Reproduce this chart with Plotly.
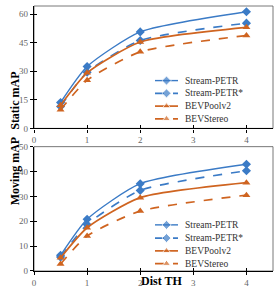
import plotly.graph_objects as go

dist = [0.5, 1, 2, 4]
series_names = ["Stream-PETR", "Stream-PETR*", "BEVPoolv2", "BEVStereo"]
static_stream = [13.6, 32.5, 50.7, 61.3]
static_stream_star = [11.5, 29.5, 46.2, 55.3]
static_bevpool = [12.2, 29.2, 45.4, 53.1]
static_bevstereo = [9.8, 25.3, 40.2, 48.8]
moving_stream = [6.3, 20.8, 35.1, 42.9]
moving_stream_star = [5.6, 18.7, 32.4, 40.3]
moving_bevpool = [5.3, 17.4, 29.5, 35.5]
moving_bevstereo = [2.8, 14.1, 24.1, 30.5]
x_ticks = [0, 1, 2, 3, 4]
static_ticks = [0, 15, 30, 45, 60]
moving_ticks = [0, 10, 20, 30, 40, 50]

BLUE = "#3B7BC6"
ORANGE = "#CF6420"
FONT = "Liberation Serif, Times New Roman, serif"
styles = [
    dict(color=BLUE, dash="solid", symbol="diamond", size=7, width=1.4),
    dict(color=BLUE, dash="dash", symbol="diamond", size=7, width=1.6),
    dict(color=ORANGE, dash="solid", symbol="triangle-up", size=7, width=1.7),
    dict(color=ORANGE, dash="dash", symbol="triangle-up", size=7, width=1.7),
]
static_vals = [static_stream, static_stream_star, static_bevpool, static_bevstereo]
moving_vals = [moving_stream, moving_stream_star, moving_bevpool, moving_bevstereo]

# pixel geometry
W, HT = 275, 293
L, R, T, B = 34, 2, 1, 22
PW, PH = W - L - R, HT - T - B


def px_x(px):
    return (px - L) / PW


def px_y(py):
    return (HT - B - py) / PH


top_dom = [px_y(125.7), 1.0]
bot_dom = [0.0, px_y(144.3)]
X_RANGE = [0, 4.5]
Y1_RANGE = [0, 64.3]
Y2_RANGE = [0, 50]

fig = go.Figure()
for name, vals, st in zip(series_names, static_vals, styles):
    fig.add_trace(go.Scatter(
        x=dist, y=vals, name=name, mode="lines+markers", xaxis="x", yaxis="y",
        line=dict(color=st["color"], dash=st["dash"], width=st["width"], shape="spline", smoothing=0.6),
        marker=dict(symbol=st["symbol"], size=st["size"], color=st["color"]),
        showlegend=False))
for name, vals, st in zip(series_names, moving_vals, styles):
    fig.add_trace(go.Scatter(
        x=dist, y=vals, name=name, mode="lines+markers", xaxis="x2", yaxis="y2",
        line=dict(color=st["color"], dash=st["dash"], width=st["width"], shape="spline", smoothing=0.6),
        marker=dict(symbol=st["symbol"], size=st["size"], color=st["color"]),
        showlegend=False))

# dummy traces so the inside-tick overlay axes get drawn
fig.add_trace(go.Scatter(x=[None], y=[None], xaxis="x4", yaxis="y4", showlegend=False, hoverinfo="skip"))
fig.add_trace(go.Scatter(x=[None], y=[None], xaxis="x5", yaxis="y5", showlegend=False, hoverinfo="skip"))

# manual legends (compact rows like the reference)
legend_rows = {"top": [77, 90, 103, 116], "bot": [224, 237.5, 250.5, 263.5]}
gx0, gxc, gx1, tx = 155, 166.5, 178, 183
annotations = []
for key, rows in legend_rows.items():
    for name, st, py in zip(series_names, styles, rows):
        fig.add_trace(go.Scatter(
            x=[px_x(gx0), px_x(gxc), px_x(gx1)], y=[px_y(py)] * 3,
            mode="lines+markers", xaxis="x3", yaxis="y3", showlegend=False, hoverinfo="skip",
            line=dict(color=st["color"], dash=st["dash"], width=st["width"]),
            marker=dict(symbol=st["symbol"], size=[0, st["size"], 0], color=st["color"])))
        annotations.append(dict(x=px_x(tx), y=px_y(py), xref="paper", yref="paper",
                                text=name, showarrow=False, xanchor="left", yanchor="middle",
                                font=dict(family=FONT, size=9.5, color="#333333")))

title_font = dict(family=FONT, size=12, color="black")
annotations += [
    dict(x=px_x(6), y=px_y(66), xref="paper", yref="paper",
         text="<b>Static mAP</b>", textangle=-90, showarrow=False, font=title_font),
    dict(x=px_x(6), y=px_y(206), xref="paper", yref="paper",
         text="<b>Moving mAP</b>", textangle=-90, showarrow=False, font=title_font),
    dict(x=px_x(161), y=px_y(290), xref="paper", yref="paper",
         text="<b>Dist TH</b>", showarrow=False, font=title_font),
]

axis_common = dict(showline=True, linecolor="black", linewidth=1.3, ticks="outside",
                   ticklen=3, tickcolor="black", tickwidth=1, showgrid=False, zeroline=False,
                   tickfont=dict(family=FONT, size=9, color="#666666"))
inside_common = dict(ticks="inside", ticklen=3, tickcolor="black", tickwidth=1,
                     showticklabels=False, showline=False, showgrid=False, zeroline=False)
fig.update_layout(
    xaxis=dict(range=X_RANGE, tickvals=x_ticks, domain=[0, 1], anchor="y", **axis_common),
    xaxis2=dict(range=X_RANGE, tickvals=x_ticks, domain=[0, 1], anchor="y2", **axis_common),
    yaxis=dict(range=Y1_RANGE, tickvals=static_ticks, domain=top_dom, anchor="x", **axis_common),
    yaxis2=dict(range=Y2_RANGE, tickvals=moving_ticks, domain=bot_dom, anchor="x2", **axis_common),
    xaxis3=dict(range=[0, 1], domain=[0, 1], anchor="y3", visible=False, fixedrange=True),
    yaxis3=dict(range=[0, 1], domain=[0, 1], anchor="x3", visible=False, fixedrange=True),
    xaxis4=dict(range=X_RANGE, tickvals=x_ticks, overlaying="x", anchor="y", **inside_common),
    yaxis4=dict(range=Y1_RANGE, tickvals=static_ticks, overlaying="y", anchor="x", **inside_common),
    xaxis5=dict(range=X_RANGE, tickvals=x_ticks, overlaying="x2", anchor="y2", **inside_common),
    yaxis5=dict(range=Y2_RANGE, tickvals=moving_ticks, overlaying="y2", anchor="x2", **inside_common),
    annotations=annotations,
    width=W, height=HT,
    margin=dict(l=L, r=R, t=T, b=B),
    paper_bgcolor="white", plot_bgcolor="rgba(0,0,0,0)",
    showlegend=False,
)

# thin frame on top/right
for xr, yr in [("x domain", "y domain"), ("x2 domain", "y2 domain")]:
    fig.add_shape(type="rect", xref=xr, yref=yr, x0=0, x1=1, y0=0, y1=1,
                  line=dict(color="#555555", width=0.8), layer="below")

fig.write_html("out.html", config={"displayModeBar": False},
               post_script="document.body.style.margin='0';")
